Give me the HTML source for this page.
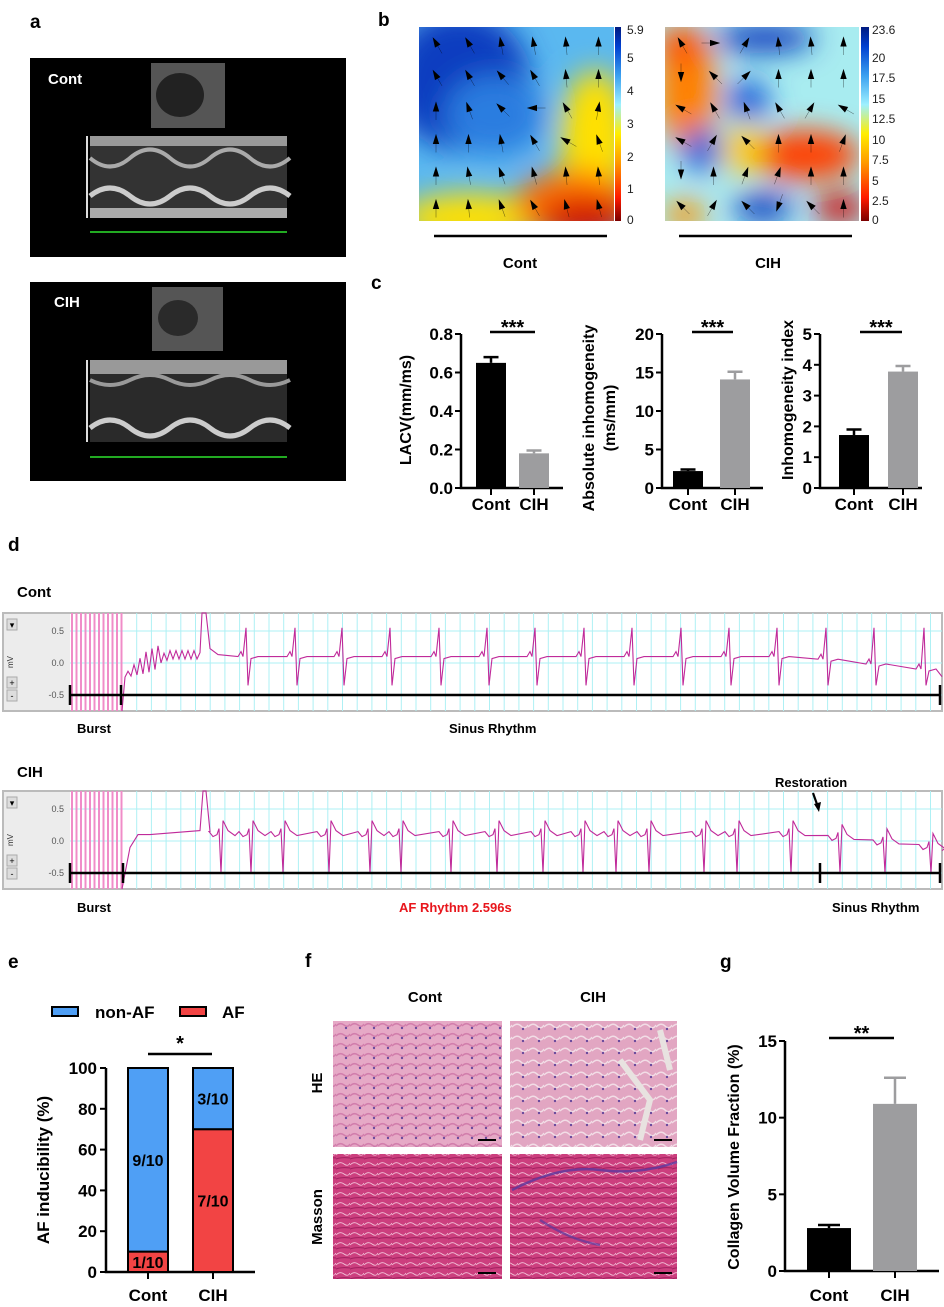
<!DOCTYPE html>
<html><head><meta charset="utf-8">
<style>
html,body{margin:0;padding:0;background:#fff;}
svg{display:block;font-family:"Liberation Sans",Arial,sans-serif;}
</style></head>
<body>
<svg id="fig" width="944" height="1307" viewBox="0 0 944 1307" xmlns="http://www.w3.org/2000/svg">
<defs>
<filter id="blur8" x="-20%" y="-20%" width="140%" height="140%"><feGaussianBlur stdDeviation="14"/></filter>
<clipPath id="cpL"><rect x="419" y="27" width="195" height="194"/></clipPath>
<clipPath id="cpR"><rect x="665" y="27" width="194" height="194"/></clipPath>
<linearGradient id="cbar" x1="0" y1="1" x2="0" y2="0">
<stop offset="0" stop-color="#7a0000"/><stop offset="0.12" stop-color="#ff1a00"/><stop offset="0.3" stop-color="#ff9900"/><stop offset="0.45" stop-color="#ffee00"/><stop offset="0.6" stop-color="#9ef0ff"/><stop offset="0.75" stop-color="#3aa0f0"/><stop offset="0.9" stop-color="#0040d0"/><stop offset="1" stop-color="#001a80"/>
</linearGradient>
<pattern id="he" width="14" height="10" patternUnits="userSpaceOnUse"><rect width="14" height="10" fill="#e6a9c6"/><path d="M0 6 Q4 2 8 5 T14 4" stroke="#d27eac" stroke-width="1.5" fill="none"/><circle cx="10" cy="8" r="1.2" fill="#6a4a9c"/></pattern>
<pattern id="he2" width="16" height="12" patternUnits="userSpaceOnUse"><rect width="16" height="12" fill="#e2a6c2"/><path d="M0 7 Q5 2 9 6 T16 5" stroke="#f2dde6" stroke-width="1.5" fill="none"/><circle cx="11" cy="9" r="1.2" fill="#6a4a9c"/></pattern>
<pattern id="ms" width="14" height="10" patternUnits="userSpaceOnUse"><rect width="14" height="10" fill="#cc3f7e"/><path d="M0 5 Q4 1 8 4 T14 3" stroke="#f4c6dc" stroke-width="0.8" fill="none"/><path d="M0 9 Q5 7 14 8" stroke="#a02060" stroke-width="1" fill="none"/></pattern>
</defs>

<!-- Panel a -->
<text x="30" y="28" font-size="19" font-weight="bold">a</text>
<g>
<rect x="30" y="58" width="316" height="199" fill="#000"/>
<rect x="151" y="63" width="74" height="65" fill="#555"/>
<ellipse cx="180" cy="95" rx="24" ry="22" fill="#222"/>
<rect x="90" y="136" width="197" height="82" fill="#333"/>
<rect x="90" y="136" width="197" height="10" fill="#999"/>
<path d="M90 158 Q110 175 130 158 T170 158 T210 158 T250 158 T290 158" stroke="#aaa" stroke-width="4" fill="none"/>
<path d="M90 196 Q110 180 130 196 T170 196 T210 196 T250 196 T290 196" stroke="#ccc" stroke-width="5" fill="none"/>
<rect x="90" y="208" width="197" height="10" fill="#aaa"/>
<rect x="86" y="136" width="2" height="82" fill="#ddd"/>
<path d="M90 232 L287 232" stroke="#2a2" stroke-width="2"/>
<text x="48" y="84" fill="#fff" font-size="15" font-weight="bold">Cont</text>
</g>
<g>
<rect x="30" y="282" width="316" height="199" fill="#000"/>
<rect x="152" y="287" width="71" height="64" fill="#555"/>
<ellipse cx="178" cy="318" rx="20" ry="18" fill="#2a2a2a"/>
<rect x="90" y="360" width="197" height="82" fill="#2a2a2a"/>
<rect x="90" y="360" width="197" height="14" fill="#999"/>
<path d="M90 380 Q110 390 130 380 T170 380 T210 380 T250 380 T290 380" stroke="#999" stroke-width="4" fill="none"/>
<path d="M90 428 Q110 412 130 428 T170 428 T210 428 T250 428 T290 428" stroke="#ccc" stroke-width="5" fill="none"/>
<rect x="86" y="360" width="2" height="82" fill="#ddd"/>
<path d="M90 457 L287 457" stroke="#2a2" stroke-width="2"/>
<text x="54" y="307" fill="#fff" font-size="15" font-weight="bold">CIH</text>
</g>

<!-- Panel b -->
<text x="378" y="26" font-size="19" font-weight="bold">b</text>
<g clip-path="url(#cpL)">
<rect x="419" y="27" width="195" height="194" fill="#5ab8f0"/>
<g filter="url(#blur8)">
<ellipse cx="460" cy="80" rx="70" ry="70" fill="#0a3cc0"/>
<ellipse cx="495" cy="115" rx="50" ry="40" fill="#2a7de0"/>
<ellipse cx="595" cy="140" rx="35" ry="70" fill="#ffe000"/>
<ellipse cx="470" cy="218" rx="70" ry="25" fill="#ffe000"/>
<ellipse cx="575" cy="205" rx="60" ry="35" fill="#ff7000"/>
<ellipse cx="585" cy="218" rx="45" ry="20" fill="#d00000"/>
</g>
</g>
<rect x="615" y="27" width="6" height="194" fill="url(#cbar)"/>
<g font-size="12" fill="#222">
<text x="627" y="34">5.9</text><text x="627" y="62">5</text><text x="627" y="95">4</text><text x="627" y="128">3</text><text x="627" y="161">2</text><text x="627" y="193">1</text><text x="627" y="224">0</text>
</g>
<g clip-path="url(#cpR)">
<rect x="665" y="27" width="194" height="194" fill="#a8ecf0"/>
<g filter="url(#blur8)">
<ellipse cx="687" cy="90" rx="30" ry="60" fill="#ff8000"/>
<ellipse cx="682" cy="45" rx="25" ry="20" fill="#ff5000"/>
<ellipse cx="765" cy="38" rx="50" ry="15" fill="#0a3cc0"/>
<ellipse cx="748" cy="100" rx="22" ry="20" fill="#1a5ad8"/>
<ellipse cx="702" cy="150" rx="20" ry="22" fill="#1a5ad8"/>
<ellipse cx="805" cy="155" rx="55" ry="25" fill="#ff4000"/>
<ellipse cx="743" cy="150" rx="20" ry="25" fill="#ffcc00"/>
<ellipse cx="763" cy="208" rx="30" ry="15" fill="#0a3cc0"/>
<ellipse cx="840" cy="208" rx="25" ry="15" fill="#d00000"/>
<ellipse cx="685" cy="215" rx="20" ry="15" fill="#ff9000"/>
</g>
</g>
<rect x="861" y="27" width="8" height="194" fill="url(#cbar)"/>
<g font-size="12" fill="#222">
<text x="872" y="34">23.6</text><text x="872" y="62">20</text><text x="872" y="82">17.5</text><text x="872" y="103">15</text><text x="872" y="123">12.5</text><text x="872" y="144">10</text><text x="872" y="164">7.5</text><text x="872" y="185">5</text><text x="872" y="205">2.5</text><text x="872" y="224">0</text>
</g>
<g id="arrows" stroke="#000" fill="#000"></g>
<line x1="434" y1="236" x2="607" y2="236" stroke="#000" stroke-width="2.5"/>
<line x1="679" y1="236" x2="852" y2="236" stroke="#000" stroke-width="2.5"/>
<text x="520" y="268" font-size="15" font-weight="bold" text-anchor="middle">Cont</text>
<text x="768" y="268" font-size="15" font-weight="bold" text-anchor="middle">CIH</text>

<!-- Panel c -->
<text x="371" y="289" font-size="19" font-weight="bold">c</text>
<g id="cgroup"></g>

<!-- Panel d -->
<text x="8" y="551" font-size="19" font-weight="bold">d</text>
<text x="17" y="597" font-size="15" font-weight="bold">Cont</text>
<text x="17" y="777" font-size="15" font-weight="bold">CIH</text>
<g id="traces"></g>
<text x="77" y="733" font-size="13" font-weight="bold">Burst</text>
<text x="449" y="733" font-size="13" font-weight="bold">Sinus Rhythm</text>
<text x="775" y="787" font-size="13" font-weight="bold">Restoration</text>
<path d="M813 793 L818 807" stroke="#000" stroke-width="2.2"/>
<path d="M814 804 L819 812 L821 802 Z" fill="#000"/>
<text x="77" y="912" font-size="13" font-weight="bold">Burst</text>
<text x="399" y="912" font-size="13" font-weight="bold" fill="#e8161c">AF Rhythm 2.596s</text>
<text x="832" y="912" font-size="13" font-weight="bold">Sinus Rhythm</text>

<!-- Panel e -->
<text x="8" y="968" font-size="19" font-weight="bold">e</text>
<g id="egroup"></g>

<!-- Panel f -->
<text x="305" y="967" font-size="19" font-weight="bold">f</text>
<text x="425" y="1002" font-size="15" font-weight="bold" text-anchor="middle">Cont</text>
<text x="593" y="1002" font-size="15" font-weight="bold" text-anchor="middle">CIH</text>
<text transform="translate(322,1083) rotate(-90)" font-size="15" font-weight="bold" text-anchor="middle">HE</text>
<text transform="translate(322,1217) rotate(-90)" font-size="15" font-weight="bold" text-anchor="middle">Masson</text>
<rect x="333" y="1021" width="169" height="126" fill="url(#he)"/>
<rect x="510" y="1021" width="167" height="126" fill="url(#he2)"/>
<path d="M620 1060 L650 1100 L640 1140 M660 1030 L670 1070" stroke="#e8e2e0" stroke-width="6" fill="none"/>
<rect x="333" y="1154" width="169" height="125" fill="url(#ms)"/>
<rect x="510" y="1154" width="167" height="125" fill="url(#ms)"/>
<path d="M512 1190 Q560 1165 600 1170 T677 1162" stroke="#5a3aa0" stroke-width="2.5" fill="none" opacity="0.8"/>
<path d="M540 1220 Q570 1240 600 1245" stroke="#5a3aa0" stroke-width="2.5" fill="none" opacity="0.7"/>
<g stroke="#000" stroke-width="2"><line x1="478" y1="1140" x2="496" y2="1140"/><line x1="654" y1="1140" x2="672" y2="1140"/><line x1="478" y1="1273" x2="496" y2="1273"/><line x1="654" y1="1273" x2="672" y2="1273"/></g>

<!-- Panel g -->
<text x="720" y="968" font-size="19" font-weight="bold">g</text>
<g id="ggroup"></g>
</svg>

<script>
const NS="http://www.w3.org/2000/svg";
function mk(tag,attrs,parent,text){const e=document.createElementNS(NS,tag);for(const k in attrs)e.setAttribute(k,attrs[k]);if(text!==undefined)e.textContent=text;parent.appendChild(e);return e;}

// ---------- Panel b arrows (direction angles, degrees; 0=up) ----------
const arrowAnglesCont=[[-30,-30,-10,-10,-5,0],[-30,-30,-40,-30,-5,0],[0,-20,-45,-90,-30,10],[0,0,-10,-30,-60,-20],[0,-10,-20,-15,-5,-5],[0,-5,-20,-30,-15,-15]];
const arrowAnglesCih=[[-30,90,30,-5,-5,0],[180,-45,45,0,0,0],[-60,-30,-20,-30,30,-60],[-60,30,-45,0,0,20],[180,0,20,20,0,0],[-45,30,-45,-160,-45,0]];
const arrG=document.getElementById('arrows');
function drawArrows(angles,x0,y0,dx,dy){
  angles.forEach((row,r)=>row.forEach((a,c)=>{
    const cx=x0+c*dx, cy=y0+r*dy, rad=a*Math.PI/180;
    const ux=Math.sin(rad), uy=-Math.cos(rad);
    const tx=cx+ux*5, ty=cy+uy*5, bx=cx-ux*3, by=cy-uy*3;
    const px=-uy*2.5, py=ux*2.5;
    mk('line',{x1:bx,y1:by,x2:cx-ux*12,y2:cy-uy*12,'stroke-width':0.5,opacity:0.6},arrG);
    const p=mk('path',{d:`M${tx} ${ty} L${bx+px} ${by+py} L${bx-px} ${by-py} Z`},arrG);
    
    
  }));
}
drawArrows(arrowAnglesCont,436,43,32.5,32.5);
drawArrows(arrowAnglesCih,681,43,32.5,32.5);

// ---------- Panel c bar charts ----------
const cCategories=["Cont","CIH"];
const lacvValues=[0.65,0.18];
const lacvErr=[0.03,0.015];
const absInhomValues=[2.2,14.1];
const absInhomErr=[0.2,1.0];
const inhomIdxValues=[1.72,3.78];
const inhomIdxErr=[0.18,0.18];
const lacvTicks=["0.0","0.2","0.4","0.6","0.8"];
const absTicks=["0","5","10","15","20"];
const idxTicks=["0","1","2","3","4","5"];
const barColors=["#000000","#9d9d9f"];
const cg=document.getElementById('cgroup');
function barChart(g,o){
  const y=v=>o.y0-(v/o.max)*(o.y0-o.y1);
  const ax=mk('path',{d:`M${o.ax} ${o.y1} L${o.ax} ${o.y0} L${o.xEnd} ${o.y0}`,stroke:'#000','stroke-width':2.5,fill:'none'},g);
  
  
  o.ticks.forEach(t=>{
    const v=parseFloat(t), yy=y(v);
    mk('line',{x1:o.ax-6,x2:o.ax,y1:yy,y2:yy,stroke:'#000','stroke-width':2},g);
    const tx=mk('text',{x:o.ax-8,y:yy+6,'font-size':17,'font-weight':'bold','text-anchor':'end'},g,t);
    
    
  });
  o.values.forEach((v,i)=>{
    const x=o.bx[i], cx=x+o.bw/2;
    mk('line',{x1:cx,x2:cx,y1:o.y0,y2:o.y0+7,stroke:'#000','stroke-width':2},g);
    const r=mk('rect',{x:x,y:y(v),width:o.bw,height:o.y0-y(v),fill:barColors[i]},g);
    
    
    const e=o.err[i];
    mk('path',{d:`M${cx} ${y(v)} L${cx} ${y(v+e)} M${cx-o.bw/4} ${y(v+e)} L${cx+o.bw/4} ${y(v+e)}`,stroke:barColors[i],'stroke-width':2.5},g);
    const lb=mk('text',{x:cx,y:o.y0+o.labOff,'font-size':17,'font-weight':'bold','text-anchor':'middle'},g,o.cats[i]);
    
    
  });
  mk('line',{x1:o.sig[0],x2:o.sig[1],y1:o.sig[2],y2:o.sig[2],stroke:'#000','stroke-width':2.5},g);
  const st=mk('text',{x:(o.sig[0]+o.sig[1])/2,y:o.sig[2]+2,'font-size':20,'font-weight':'bold','text-anchor':'middle'},g,o.star);
  
  
  o.title.forEach((t,i)=>{
    const tt=mk('text',{transform:`translate(${o.tx+i*21},${o.ty}) rotate(-90)`,'font-size':16,'font-weight':'bold','text-anchor':'middle'},g,t);
    
    
  });
}
barChart(cg,{name:'lacv',ax:461,xEnd:563,y0:488,y1:334,max:0.8,ticks:lacvTicks,values:lacvValues,err:lacvErr,cats:cCategories,bx:[476,519],bw:30,labOff:22,sig:[490,535,332],star:'***',title:['LACV(mm/ms)'],tx:411,ty:410});
barChart(cg,{name:'abs-inhomogeneity',ax:662,xEnd:763,y0:488,y1:334,max:20,ticks:absTicks,values:absInhomValues,err:absInhomErr,cats:cCategories,bx:[673,720],bw:30,labOff:22,sig:[692,733,332],star:'***',title:['Absolute inhomogeneity','(ms/mm)'],tx:594,ty:418});
barChart(cg,{name:'inhomogeneity-index',ax:820,xEnd:922,y0:488,y1:334,max:5,ticks:idxTicks,values:inhomIdxValues,err:inhomIdxErr,cats:cCategories,bx:[839,888],bw:30,labOff:22,sig:[860,902,332],star:'***',title:['Inhomogeneity index'],tx:793,ty:400});

// ---------- Panel d traces ----------
const contBeatTimes=[246,295,342,390,439,487,535,584,632,681,729,777,826,874,924];
const cihBeatTimes=[219,249,281,327,368,399,449,495,541,581,614,647,702,735,789,838,883,929];
const tg=document.getElementById('traces');
function trace(top,beats,isAF,name){
  const L=3,R=942,H=98,gx=70,bx=122;
  const yv=v=>top+50-v*64;
  const g=mk('g',{},tg);
  
  
  mk('rect',{x:L,y:top,width:R-L,height:H,fill:'#fff',stroke:'#bbb','stroke-width':2},g);
  mk('rect',{x:L+1,y:top+1,width:gx-L-1,height:H-2,fill:'#ececec'},g);
  for(let x=bx;x<R;x+=14.7) mk('line',{x1:x,x2:x,y1:top,y2:top+H,stroke:'#aef0f4','stroke-width':1},g);
  [0.5,0,-0.5].forEach(v=>{const yy=yv(v);mk('line',{x1:gx,x2:R,y1:yy,y2:yy,stroke:'#aef0f4'},g);
    mk('text',{x:64,y:yy+3,'font-size':9,fill:'#555','text-anchor':'end'},g,v===0?'0.0':v.toFixed(1));});
  mk('text',{transform:`translate(13,${top+55}) rotate(-90)`,'font-size':8,fill:'#333'},g,'mV');
  [['▾',top+6],['+',top+64],['-',top+77]].forEach(b=>{mk('rect',{x:7,y:b[1],width:10,height:11,fill:'#ddd',stroke:'#aaa'},g);mk('text',{x:12,y:b[1]+9,'font-size':9,'text-anchor':'middle'},g,b[0]);});
  for(let x=gx+2;x<bx;x+=4.5) mk('line',{x1:x,x2:x,y1:top,y2:top+H,stroke:'#f08cc8','stroke-width':2},g);
  const base=yv(0.1);
  let d=`M${bx} ${top+H}`;
  if(!isAF){
    for(let x=bx+3;x<198;x+=3){const amp=Math.min(1,(x-bx)/25)*(x<160?16:6);const off=Math.max(0,(170-x)/50)*22;d+=` L${x} ${base+off-(((x/3)%2)<1?amp:-amp*0.4)}`;}
    d+=` L200 ${base-4} L202 ${top} L206 ${top} L210 ${base-8} L218 ${base-2}`;
  } else {
    d+=` L130 ${yv(-0.1)} L138 ${yv(0.1)} L150 ${base} L200 ${base-4} L203 ${top} L206 ${top} L210 ${base-3}`;
  }
  beats.forEach((b,i)=>{
    const drift=(b>800)?(b-800)/140*14:0;
    const bb=base+drift;
    if(isAF){
      d+=` L${b-10} ${bb-3} L${b-6} ${bb+2} L${b-2} ${bb} L${b} ${bb-6} L${b+2} ${yv(-0.5)} L${b+4} ${bb-14} L${b+9} ${bb-4} L${b+16} ${bb+1}`;
    } else {
      d+=` L${b-8} ${bb} L${b-5} ${bb-5} L${b-3} ${bb} L${b} ${yv(0.55)} L${b+2} ${yv(-0.35)} L${b+5} ${bb+2} L${b+12} ${bb}`;
    }
  });
  d+=` L${R} ${base+(isAF?16:20)}`;
  mk('path',{d:d,stroke:'#c02a9a','stroke-width':1.1,fill:'none'},g);
  return yv(-0.5);
}
const tlCont=trace(613,contBeatTimes,false,'ecg-trace-cont');
const tlCih=trace(791,cihBeatTimes,true,'ecg-trace-cih');
function tl(y,ticks,name){
  const l=mk('line',{x1:70,x2:940,y1:y,y2:y,stroke:'#000','stroke-width':2.5},tg);
  
  
  ticks.forEach(x=>mk('line',{x1:x,x2:x,y1:y-10,y2:y+10,stroke:'#000','stroke-width':2.5},tg));
}
tl(tlCont,[70,121,940],'timeline-cont');
tl(tlCih,[70,123,820,940],'timeline-cih');

// ---------- Panel e stacked bars ----------
const eCategories=["Cont","CIH"];
const afPercent=[10,70];
const nonAfPercent=[90,30];
const afLabels=["1/10","7/10"];
const nonAfLabels=["9/10","3/10"];
const eTicks=[0,20,40,60,80,100];
const eg=document.getElementById('egroup');
(function(){
  const y0=1272,y1=1068,ax=106;const y=v=>y0-v/100*(y0-y1);
  const bx=[128,193],bw=40;
  mk('path',{d:`M${ax} ${y1} L${ax} ${y0} L255 ${y0}`,stroke:'#000','stroke-width':2.5,fill:'none'},eg);
  eTicks.forEach(t=>{mk('line',{x1:ax-6,x2:ax,y1:y(t),y2:y(t),stroke:'#000','stroke-width':2},eg);
    const tx=mk('text',{x:ax-9,y:y(t)+6,'font-size':17,'font-weight':'bold','text-anchor':'end'},eg,String(t));
    
    });
  eCategories.forEach((c,i)=>{
    const cx=bx[i]+bw/2;
    mk('line',{x1:cx,x2:cx,y1:y0,y2:y0+7,stroke:'#000','stroke-width':2},eg);
    const r1=mk('rect',{x:bx[i],y:y(afPercent[i]),width:bw,height:y0-y(afPercent[i]),fill:'#f24444',stroke:'#000','stroke-width':2},eg);
    
    
    const top=afPercent[i]+nonAfPercent[i];
    const r2=mk('rect',{x:bx[i],y:y(top),width:bw,height:y(afPercent[i])-y(top),fill:'#4f9ff5',stroke:'#000','stroke-width':2},eg);
    
    
    mk('text',{x:cx,y:(y(afPercent[i])+y0)/2+6,'font-size':16,'font-weight':'bold','text-anchor':'middle'},eg,afLabels[i]);
    mk('text',{x:cx,y:(y(top)+y(afPercent[i]))/2+6,'font-size':16,'font-weight':'bold','text-anchor':'middle'},eg,nonAfLabels[i]);
    const lb=mk('text',{x:cx,y:1301,'font-size':17,'font-weight':'bold','text-anchor':'middle'},eg,c);
    
    
  });
  mk('line',{x1:148,x2:212,y1:1054,y2:1054,stroke:'#000','stroke-width':2.5},eg);
  mk('text',{x:180,y:1050,'font-size':20,'font-weight':'bold','text-anchor':'middle'},eg,'*');
  const t=mk('text',{transform:'translate(49,1170) rotate(-90)','font-size':17,'font-weight':'bold','text-anchor':'middle'},eg,'AF inducibility (%)');
  
  
  const l1=mk('rect',{x:52,y:1007,width:26,height:9,fill:'#4f9ff5',stroke:'#000','stroke-width':2},eg);
  
  
  mk('text',{x:95,y:1018,'font-size':17,'font-weight':'bold'},eg,'non-AF');
  const l2=mk('rect',{x:180,y:1007,width:26,height:9,fill:'#f24444',stroke:'#000','stroke-width':2},eg);
  
  
  mk('text',{x:222,y:1018,'font-size':17,'font-weight':'bold'},eg,'AF');
})();

// ---------- Panel g ----------
const gCategories=["Cont","CIH"];
const collagenValues=[2.8,10.9];
const collagenErr=[0.2,1.7];
const gTicks=["0","5","10","15"];
barChart(document.getElementById('ggroup'),{name:'collagen',ax:785,xEnd:939,y0:1271,y1:1041,max:15,ticks:gTicks,values:collagenValues,err:collagenErr,cats:gCategories,bx:[807,873],bw:44,labOff:30,sig:[829,894,1038],star:'**',title:['Collagen Volume Fraction (%)'],tx:739,ty:1157});
</script>
</body></html>
